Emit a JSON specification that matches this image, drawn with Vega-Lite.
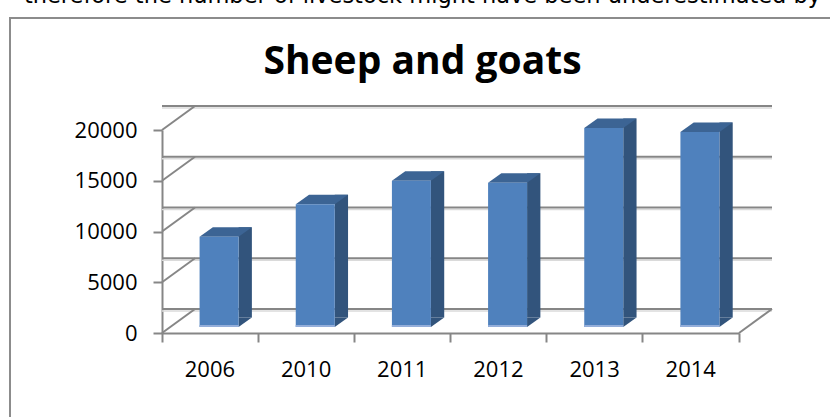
{
  "$schema": "https://vega.github.io/schema/vega-lite/v6.json",
  "width": 577,
  "height": 203,
  "autosize": "none",
  "padding": {"left": 162, "top": 130, "right": 91, "bottom": 84},
  "background": "white",
  "config": {
    "view": {"stroke": null},
    "numberFormat": "d",
    "axis": {"grid": false, "tickSize": 9, "tickWidth": 2, "tickColor": "#868686", "domainColor": "#868686", "domainWidth": 2, "labelFont": "Open Sans", "labelFontSize": 22, "labelColor": "#000000"}
  },
  "title": {
    "text": "therefore the number of livestock might have been underestimated by",
    "subtitle": "Sheep and goats",
    "anchor": "middle",
    "frame": "group",
    "dx": -28,
    "font": "DejaVu Sans",
    "fontSize": 22.5,
    "fontWeight": "normal",
    "color": "#000000",
    "subtitleFont": "Open Sans",
    "subtitleFontSize": 39,
    "subtitleFontWeight": "bold",
    "subtitleColor": "#000000",
    "subtitlePadding": 35.5,
    "offset": -68
  },
  "datasets": {
    "sheep": [
      {"year": "2006", "value": 8900},
      {"year": "2010", "value": 12100},
      {"year": "2011", "value": 14400},
      {"year": "2012", "value": 14200},
      {"year": "2013", "value": 19600},
      {"year": "2014", "value": 19200}
    ],
    "grid": [{"g": 0}, {"g": 5000}, {"g": 10000}, {"g": 15000}, {"g": 20000}]
  },
  "layer": [
    {
      "data": {"name": "grid"},
      "mark": {"type": "rule", "color": "#DADADA", "strokeWidth": 1.5, "xOffset": 33, "x2Offset": 33, "yOffset": -22},
      "encoding": {
        "y": {"field": "g", "type": "quantitative", "title": null, "scale": {"domain": [0, 20000], "nice": false, "zero": false}}
      }
    },
    {
      "data": {"name": "grid"},
      "mark": {"type": "rule", "color": "#868686", "strokeWidth": 2, "xOffset": 33, "x2Offset": 33, "yOffset": -24},
      "encoding": {
        "y": {"field": "g", "type": "quantitative", "title": null}
      }
    },
    {
      "data": {"name": "grid"},
      "mark": {"type": "point", "filled": false, "opacity": 1, "size": 4, "strokeWidth": 2, "shape": "M-48.08,0L-15.08,-24", "color": "#868686"},
      "encoding": {
        "x": {"datum": "2006", "type": "ordinal", "title": null, "scale": {"type": "band", "paddingInner": 0, "paddingOuter": 0}},
        "y": {"field": "g", "type": "quantitative", "title": null}
      }
    },
    {
      "data": {"name": "grid"},
      "transform": [{"filter": "datum.g == 0"}],
      "mark": {"type": "point", "filled": false, "opacity": 1, "size": 4, "strokeWidth": 2, "shape": "M48.08,0L81.08,-24", "color": "#868686"},
      "encoding": {
        "x": {"datum": "2014", "type": "ordinal", "title": null},
        "y": {"field": "g", "type": "quantitative", "title": null}
      }
    },
    {
      "data": {"name": "grid"},
      "transform": [{"filter": "datum.g == 0"}],
      "mark": {"type": "point", "filled": false, "opacity": 1, "size": 4, "strokeWidth": 2, "shape": "M-200.08,95L-200.08,-315L630,-315", "color": "#8C8C8C"},
      "encoding": {
        "x": {"datum": "2006", "type": "ordinal", "title": null},
        "y": {"field": "g", "type": "quantitative", "title": null}
      }
    },
    {
      "data": {"name": "sheep"},
      "mark": {"type": "bar", "color": "#32547C", "width": 13.3, "xOffset": 35.15, "yOffset": -15.5, "y2Offset": -15.5},
      "encoding": {
        "x": {"field": "year", "type": "ordinal", "title": null},
        "y": {"field": "value", "type": "quantitative", "title": null}
      }
    },
    {
      "data": {"name": "sheep"},
      "mark": {"type": "point", "filled": true, "opacity": 1, "size": 4, "strokeWidth": 0, "shape": "M28.5,-6L28.5,-15.5L41.8,-15.5Z", "color": "#32547C"},
      "encoding": {
        "x": {"field": "year", "type": "ordinal", "title": null},
        "y": {"datum": 0, "type": "quantitative", "title": null}
      }
    },
    {
      "data": {"name": "sheep"},
      "mark": {"type": "point", "filled": true, "opacity": 1, "size": 4, "strokeWidth": 0, "shape": "M-10.5,-6L28.5,-6L41.8,-15.5L2.8,-15.5Z", "color": "#3C6494"},
      "encoding": {
        "x": {"field": "year", "type": "ordinal", "title": null},
        "y": {"field": "value", "type": "quantitative", "title": null}
      }
    },
    {
      "data": {"name": "sheep"},
      "mark": {"type": "bar", "color": "#4F81BD", "width": 39, "xOffset": 9, "yOffset": -6, "y2Offset": -6},
      "encoding": {
        "x": {
          "field": "year", "type": "ordinal", "title": null,
          "axis": {"orient": "bottom", "bandPosition": 1, "tickExtra": true, "labelPadding": 27, "labelOffset": 25, "labelAngle": 0, "title": null}
        },
        "y": {
          "field": "value", "type": "quantitative", "title": null,
          "axis": {"orient": "left", "values": [0, 5000, 10000, 15000, 20000], "format": "d", "labelPadding": 16, "title": null}
        }
      }
    },
    {
      "data": {"name": "sheep"},
      "mark": {"type": "point", "filled": true, "opacity": 1, "size": 4, "strokeWidth": 0, "shape": "M-10.5,-6L28.5,-6L28.5,-8L-10.5,-8Z", "color": "#94AEDA"},
      "encoding": {
        "x": {"field": "year", "type": "ordinal", "title": null},
        "y": {"datum": 0, "type": "quantitative", "title": null}
      }
    }
  ]
}
